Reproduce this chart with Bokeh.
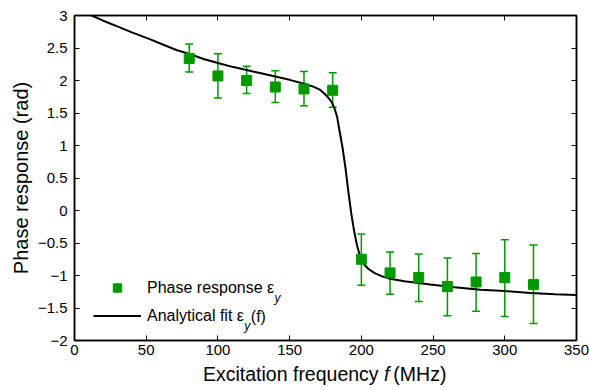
from bokeh.plotting import figure
from bokeh.layouts import column
from bokeh.models import (ColumnDataSource, Whisker, TeeHead, LinearAxis, FixedTicker,
                          Legend, LegendItem, Label, Range1d, Div, CustomJSTickFormatter)
from bokeh.embed import file_html
from bokeh.resources import INLINE

# ---------------- data ----------------
freq = [80, 100, 120, 140, 160, 180, 200, 220, 240, 260, 280, 300, 320]
phase = [2.34, 2.07, 2.00, 1.90, 1.87, 1.85, -0.75, -0.96, -1.03, -1.17, -1.10, -1.03, -1.14]
err_upper = [2.56, 2.41, 2.22, 2.15, 2.14, 2.12, -0.36, -0.64, -0.67, -0.73, -0.66, -0.45, -0.53]
err_lower = [2.13, 1.73, 1.80, 1.66, 1.61, 1.59, -1.15, -1.29, -1.40, -1.62, -1.55, -1.63, -1.74]

fit_freq = [6, 12, 20, 29, 40, 52, 62, 71, 80, 90, 100, 110, 120, 130, 140, 150, 160, 166, 171,
            176, 179, 181, 183, 185, 187, 189, 191, 193, 195, 197, 199, 202, 205, 209, 214, 220,
            230, 248, 265, 283, 300, 318, 335, 350]
fit_phase = [3.07, 3.00, 2.92, 2.84, 2.74, 2.64, 2.55, 2.47, 2.41, 2.33, 2.27, 2.21, 2.16, 2.11,
             2.06, 2.01, 1.95, 1.91, 1.86, 1.76, 1.68, 1.59, 1.45, 1.20, 0.95, 0.64, 0.28, -0.05,
             -0.32, -0.54, -0.70, -0.83, -0.90, -0.96, -1.01, -1.05, -1.09, -1.14, -1.18, -1.22,
             -1.24, -1.27, -1.29, -1.30]

x_ticks = [0, 50, 100, 150, 200, 250, 300, 350]
x_tick_labels = ["0", "50", "100", "150", "200", "250", "300", "350"]
y_ticks = [-2, -1.5, -1, -0.5, 0, 0.5, 1, 1.5, 2, 2.5, 3]
y_tick_labels = ["\u22122", "\u22121.5", "\u22121", "\u22120.5", "0", "0.5", "1", "1.5", "2", "2.5", "3"]

legend_labels = ["Phase response \u03b5", "Analytical fit \u03b5"]
x_label_html = "Excitation frequency <i>f</i>&thinsp;(MHz)"
y_label = "Phase response (rad)"

GREEN = "#009a00"
FONT = "Liberation Sans"

# ---------------- figure ----------------
p = figure(width=589, height=362, output_backend="svg", toolbar_location=None,
           x_range=Range1d(0, 350), y_range=Range1d(-2, 3),
           min_border_left=74, min_border_right=13, min_border_top=15, min_border_bottom=22)
p.xgrid.visible = False
p.ygrid.visible = False
p.outline_line_color = "black"
p.outline_line_width = 1.5
p.background_fill_color = "white"
p.border_fill_color = "white"

def style_axis(ax, ticks):
    ax.ticker = FixedTicker(ticks=ticks)
    ax.axis_line_color = "black"
    ax.axis_line_width = 1.5
    ax.major_tick_in = 5
    ax.major_tick_out = 0
    ax.major_tick_line_width = 1
    ax.major_tick_line_color = "black"
    ax.minor_tick_line_color = None
    ax.major_label_text_font = FONT
    ax.major_label_text_color = "black"
    ax.major_label_text_font_size = "15px"

xa = p.xaxis[0]
ya = p.yaxis[0]
style_axis(xa, x_ticks)
style_axis(ya, y_ticks)
xa.major_label_overrides = {t: l for t, l in zip(x_ticks, x_tick_labels)}
ya.major_label_overrides = {t: l for t, l in zip(y_ticks, y_tick_labels)}
xa.major_label_standoff = 4
ya.major_label_standoff = 7
ya.axis_label = y_label
ya.axis_label_text_font = FONT
ya.axis_label_text_font_size = "20px"
ya.axis_label_text_font_style = "normal"
ya.axis_label_text_color = "black"
ya.axis_label_standoff = 3

top_ax = LinearAxis(formatter=CustomJSTickFormatter(code="return ''"))
right_ax = LinearAxis(formatter=CustomJSTickFormatter(code="return ''"))
style_axis(top_ax, x_ticks)
style_axis(right_ax, y_ticks)
top_ax.major_label_standoff = 0
right_ax.major_label_standoff = 0
p.add_layout(top_ax, "above")
p.add_layout(right_ax, "right")

# ---------------- data glyphs ----------------
src = ColumnDataSource(data=dict(freq=freq, phase=phase, upper=err_upper, lower=err_lower))
fit_src = ColumnDataSource(data=dict(freq=fit_freq, phase=fit_phase))

whisk = Whisker(source=src, base="freq", upper="upper", lower="lower",
                line_color=GREEN, line_width=1.5,
                upper_head=TeeHead(size=8, line_color=GREEN, line_width=1.5),
                lower_head=TeeHead(size=8, line_color=GREEN, line_width=1.5))
p.add_layout(whisk)

fit_line = p.line("freq", "phase", source=fit_src, line_color="black", line_width=2)
squares = p.scatter("freq", "phase", source=src, marker="square", size=10,
                    fill_color=GREEN, line_color=GREEN)

# ---------------- legend ----------------
legend = Legend(items=[LegendItem(label=legend_labels[0], renderers=[squares]),
                       LegendItem(label=legend_labels[1], renderers=[fit_line])],
                location=(19, 14), padding=0, margin=0, spacing=7,
                glyph_width=48, glyph_height=21, label_standoff=6,
                label_text_font=FONT, label_text_font_size="16px", label_text_color="black",
                border_line_alpha=0, background_fill_alpha=0)
p.add_layout(legend)

# subscripts / suffix for legend text (frame-relative screen units)
text_x0 = 19 + 48 + 6
sub1_x = text_x0 + (7.504 + 0.44) * 16
sub2_x = text_x0 + (6.053) * 16
p.add_layout(Label(x=sub1_x, y=42.5, x_units="screen", y_units="screen", text="y",
                   text_font=FONT, text_font_size="12px", text_font_style="italic",
                   text_color="black", text_baseline="alphabetic"))
p.add_layout(Label(x=sub2_x, y=14.5, x_units="screen", y_units="screen", text="y",
                   text_font=FONT, text_font_size="12px", text_font_style="italic",
                   text_color="black", text_baseline="alphabetic"))
p.add_layout(Label(x=sub2_x + 6.5, y=24.5, x_units="screen", y_units="screen", text="(f)",
                   text_font=FONT, text_font_size="16px", text_color="black",
                   text_baseline="middle"))

# x-axis label (with italic f) as HTML text below the figure
xlabel = Div(text=x_label_html, width=589, height=28, margin=0,
             styles={"font-family": FONT, "font-size": "19.5px", "line-height": "22px",
                     "padding-left": "203px", "padding-top": "1px", "color": "black",
                     "white-space": "nowrap"})

layout = column(p, xlabel, spacing=0, margin=0)
open("out.html", "w").write(file_html(layout, INLINE))
